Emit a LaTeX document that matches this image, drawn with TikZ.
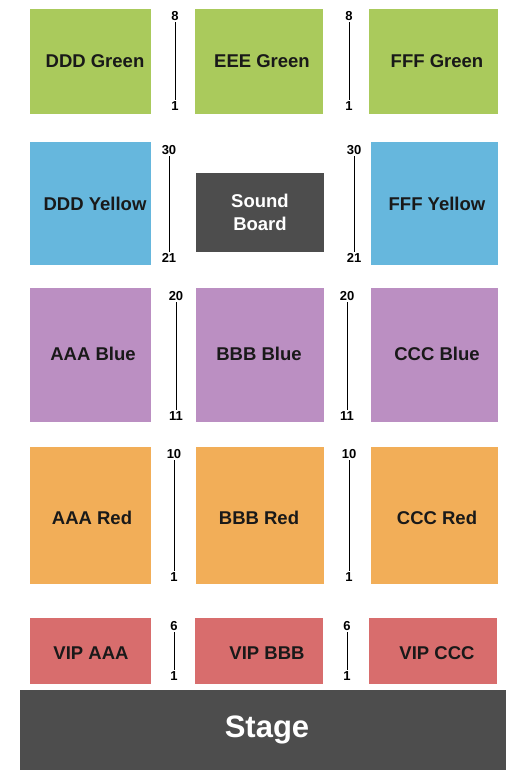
\documentclass[tikz,border=0pt]{standalone}
\usepackage{fontspec}
\setmainfont{Liberation Sans}
\begin{document}
\begin{tikzpicture}[x=1pt,y=-1pt,
  sec/.style={fill=#1,draw=none},
  lbl/.style={font=\bfseries\fontsize{18.5}{23}\selectfont,text=black!90,align=center},
  num/.style={font=\bfseries\fontsize{13}{15}\selectfont,inner sep=0pt},
  rowline/.style={line width=1pt,black}]
\definecolor{cgreen}{HTML}{AACA5C}
\definecolor{cblue}{HTML}{66B7DD}
\definecolor{cpurple}{HTML}{BB8FC2}
\definecolor{corange}{HTML}{F2AE58}
\definecolor{cred}{HTML}{D86D6D}
\definecolor{cdark}{HTML}{4D4D4D}
\useasboundingbox (0,0) rectangle (525,777);
\fill[white] (0,0) rectangle (525,777);
% Green
\fill[sec=cgreen] (30,9) rectangle (151,114);
\fill[sec=cgreen] (195,9) rectangle (323,114);
\fill[sec=cgreen] (369,9) rectangle (498,114);
\node[lbl] (ddg) at (95,61) {DDD Green};
\node[lbl] (eeg) at (262,61) {EEE Green};
\node[lbl] (ffg) at (437,61) {FFF Green};
% Yellow
\fill[sec=cblue] (30,142) rectangle (151,265);
\fill[sec=cblue] (371,142) rectangle (498,265);
\node[lbl] (ddy) at (95,204) {DDD Yellow};
\node[lbl] (ffy) at (437,204) {FFF Yellow};
\fill[sec=cdark] (196,173) rectangle (324,252);
\node[lbl,text=white] (sb) at (260,212) {Sound\\Board};
% Blue
\fill[sec=cpurple] (30,288) rectangle (151,422);
\fill[sec=cpurple] (196,288) rectangle (324,422);
\fill[sec=cpurple] (371,288) rectangle (498,422);
\node[lbl] (aab) at (93,354) {AAA Blue};
\node[lbl] (bbb) at (259,354) {BBB Blue};
\node[lbl] (ccb) at (437,354) {CCC Blue};
% Red
\fill[sec=corange] (30,447) rectangle (151,584);
\fill[sec=corange] (196,447) rectangle (324,584);
\fill[sec=corange] (371,447) rectangle (498,584);
\node[lbl] (aar) at (92,518) {AAA Red};
\node[lbl] (bbr) at (259,518) {BBB Red};
\node[lbl] (ccr) at (437,518) {CCC Red};
% VIP
\fill[sec=cred] (30,618) rectangle (151,684);
\fill[sec=cred] (195,618) rectangle (323,684);
\fill[sec=cred] (369,618) rectangle (497,684);
\node[lbl] (va) at (91,653) {VIP AAA};
\node[lbl] (vb) at (267,653) {VIP BBB};
\node[lbl] (vc) at (437,653) {VIP CCC};
% Stage
\fill[sec=cdark] (20,690) rectangle (506,770);
\node[font=\bfseries\fontsize{31}{36}\selectfont,text=white] (stage) at (267,730) {Stage};
% row number lines
\foreach \x/\ya/\yb/\ta/\tb/\n in {175/16/106/8/1/ga, 349/16/106/8/1/gb,
  169/150/258/30/21/ya, 354/150/258/30/21/yb,
  176/296/416/20/11/ba, 347/296/416/20/11/bb,
  174/454/577/10/1/ra, 349/454/577/10/1/rb,
  174/626/676/6/1/va, 347/626/676/6/1/vb}{
  \node[num] (t\n) at (\x,\ya) {\ta};
  \node[num] (b\n) at (\x,\yb) {\tb};
  \draw[rowline] ([yshift=-1.5pt]t\n.south) -- ([yshift=1.5pt]b\n.north);
}
\end{tikzpicture}
\end{document}
